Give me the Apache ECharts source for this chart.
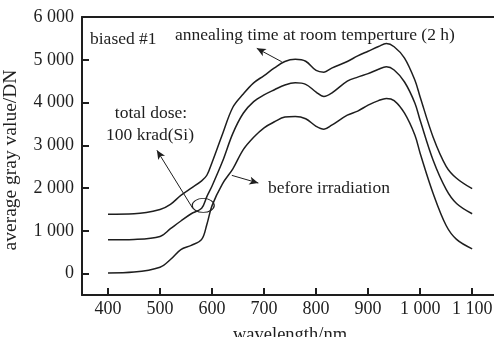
<!DOCTYPE html>
<html>
<head>
<meta charset="utf-8">
<script src="https://cdn.jsdelivr.net/npm/echarts@6/dist/echarts.min.js"></script>
<style>
  html, body { margin: 0; padding: 0; background: #ffffff; }
  #chart { width: 494px; height: 337px; }
</style>
</head>
<body>
<div id="chart"></div>
<script>
// wavelength samples (nm)
var wavelength = [400, 450, 500, 520, 540, 560, 580, 590, 600, 620, 640, 660, 680, 700, 720, 740, 760, 780,
  800, 815, 830, 860, 880, 900, 920, 935, 950, 970, 990, 1000, 1025, 1050, 1070, 1100];
// annealing time at room temperature (2 h)
var annealed = [1390, 1400, 1500, 1620, 1830, 2000, 2170, 2300, 2600, 3260, 3890, 4200, 4460, 4630, 4810, 4960, 5010, 4965,
  4750, 4710, 4805, 4960, 5090, 5200, 5310, 5380, 5305, 5040, 4520, 4130, 3190, 2510, 2230, 1985];
// total dose 100 krad(Si)
var irradiated = [790, 800, 870, 1050, 1230, 1400, 1530, 1800, 2050, 2620, 3280, 3750, 4020, 4180, 4300, 4410, 4460, 4425,
  4245, 4140, 4220, 4500, 4595, 4675, 4780, 4835, 4760, 4480, 3985, 3585, 2650, 1970, 1640, 1400];
// before irradiation
var before = [15, 35, 150, 330, 560, 660, 800, 1150, 1590, 2100, 2450, 2900, 3190, 3410, 3550, 3660, 3675, 3620,
  3445, 3375, 3470, 3705, 3800, 3940, 4045, 4095, 4045, 3750, 3235, 2815, 1875, 1125, 800, 580];

var xTicks = [400, 500, 600, 700, 800, 900, 1000, 1100];
var yTicks = [0, 1000, 2000, 3000, 4000, 5000];
var yLabels = [0, 1000, 2000, 3000, 4000, 5000, 6000];

function pair(vals) {
  return vals.map(function (v, i) { return [wavelength[i], v]; });
}
function fmt(v) {
  return String(v).replace(/\B(?=(\d{3})+(?!\d))/g, ' ');
}

var FONT = 'Liberation Serif';
var INK = '#1e1e1e';

var myChart = echarts.init(document.getElementById('chart'));

var lineBase = {
  type: 'line',
  smooth: 0.35,
  symbol: 'none',
  lineStyle: { color: INK, width: 1.5 },
  silent: true
};
var arrowStyle = {
  silent: true,
  symbol: ['none', 'arrow'],
  symbolSize: [6, 9],
  label: { show: false },
  lineStyle: { color: INK, width: 1, type: 'solid' },
  emphasis: { disabled: true }
};

var option = {
  animation: false,
  textStyle: { fontFamily: FONT },
  grid: { left: 82, top: 17, right: 0, bottom: 42, outerBoundsMode: 'none', containLabel: false },
  xAxis: [
    {
      type: 'value',
      min: 350,
      max: 1142,
      splitLine: { show: false },
      axisLine: { onZero: false, lineStyle: { color: INK, width: 2 } },
      axisTick: { inside: true, length: 7, customValues: xTicks, lineStyle: { color: INK, width: 2 } },
      axisLabel: { customValues: xTicks, color: INK, fontSize: 18, fontFamily: FONT, margin: 5, formatter: fmt },
      name: 'wavelength/nm',
      nameLocation: 'middle',
      nameGap: 31,
      nameTextStyle: { color: INK, fontSize: 18.5, fontFamily: FONT, padding: [0, 0, 0, 4] }
    },
    {
      type: 'value',
      position: 'top',
      min: 350,
      max: 1142,
      splitLine: { show: false },
      axisLine: { onZero: false, lineStyle: { color: INK, width: 2 } },
      axisTick: { show: false },
      axisLabel: { show: false }
    }
  ],
  yAxis: {
    type: 'value',
    min: -500,
    max: 6000,
    splitLine: { show: false },
    axisLine: { show: true, onZero: false, lineStyle: { color: INK, width: 2 } },
    axisTick: { show: true, inside: true, length: 7, customValues: yTicks, lineStyle: { color: INK, width: 2 } },
    axisLabel: { customValues: yLabels, color: INK, fontSize: 18, fontFamily: FONT, margin: 8, formatter: fmt },
    name: 'average gray value/DN',
    nameLocation: 'middle',
    nameGap: 61,
    nameTextStyle: { color: INK, fontSize: 19.5, fontFamily: FONT, padding: [0, 8, 0, 0] }
  },
  series: [
    Object.assign({}, lineBase, {
      name: 'annealing',
      data: pair(annealed),
      markLine: Object.assign({}, arrowStyle, {
        data: [[{ coord: [734, 4953] }, { coord: [686, 5267] }]]
      })
    }),
    Object.assign({}, lineBase, {
      name: 'irradiated',
      data: pair(irradiated),
      markLine: Object.assign({}, arrowStyle, {
        data: [[{ coord: [563, 1524] }, { coord: [494, 2883] }]]
      }),
      markPoint: {
        silent: true,
        symbol: 'circle',
        symbolSize: [22, 14],
        itemStyle: { color: 'rgba(0,0,0,0)', borderColor: INK, borderWidth: 1 },
        label: { show: false },
        data: [{ coord: [583, 1594] }]
      }
    }),
    Object.assign({}, lineBase, {
      name: 'before',
      data: pair(before),
      markLine: Object.assign({}, arrowStyle, {
        data: [[{ coord: [638, 2297] }, { coord: [689, 2117] }]]
      })
    })
  ],
  graphic: [
    { type: 'text', left: 90, top: 30, style: { text: 'biased #1', font: '17.5px "Liberation Serif"', fill: INK } },
    { type: 'text', left: 175, top: 26, style: { text: 'annealing time at room temperture (2 h)', font: '17.5px "Liberation Serif"', fill: INK } },
    { type: 'text', x: 151, y: 113, style: { text: 'total dose:', font: '17.5px "Liberation Serif"', fill: INK, align: 'center', verticalAlign: 'middle' } },
    { type: 'text', x: 150, y: 135, style: { text: '100 krad(Si)', font: '17.5px "Liberation Serif"', fill: INK, align: 'center', verticalAlign: 'middle' } },
    { type: 'text', x: 268, y: 188, style: { text: 'before irradiation', font: '17.5px "Liberation Serif"', fill: INK, verticalAlign: 'middle' } }
  ]
};

myChart.setOption(option);
window.addEventListener('resize', function () {
  myChart.resize();
});
</script>
</body>
</html>
